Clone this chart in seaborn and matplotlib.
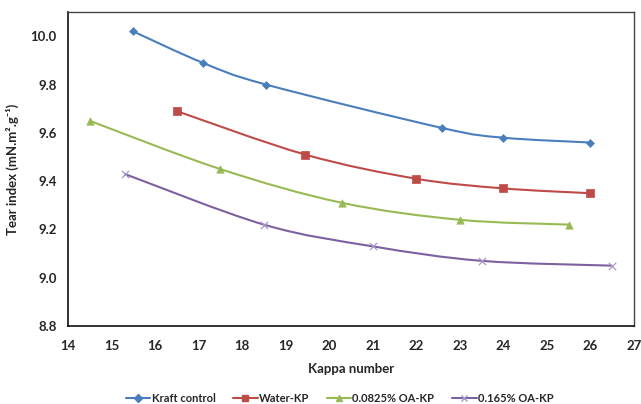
import numpy as np
import pandas as pd
import matplotlib
matplotlib.use("Agg")
import matplotlib.pyplot as plt
import seaborn as sns
from matplotlib.path import Path
from matplotlib.patches import PathPatch
from matplotlib.lines import Line2D

# ================================
# Data
# ================================
kraft_x = [15.5, 17.1, 18.55, 22.6, 24.0, 26.0]
kraft_y = [10.02, 9.89, 9.80, 9.62, 9.58, 9.56]

water_x = [16.5, 19.45, 22.0, 24.0, 26.0]
water_y = [9.69, 9.51, 9.41, 9.37, 9.35]

oa1_x = [14.5, 17.5, 20.3, 23.0, 25.5]
oa1_y = [9.65, 9.45, 9.31, 9.24, 9.22]

oa2_x = [15.3, 18.5, 21.0, 23.5, 26.5]
oa2_y = [9.43, 9.22, 9.13, 9.07, 9.05]

series_names = ["Kraft control", "Water-KP", "0.0825% OA-KP", "0.165% OA-KP"]
series_x = [kraft_x, water_x, oa1_x, oa2_x]
series_y = [kraft_y, water_y, oa1_y, oa2_y]
colors = ["#4A7EBB", "#BE4B48", "#98B954", "#7D60A0"]
markers = ["D", "s", "^", "x"]
msizes = [16, 28, 28, 28]

x_ticks = list(range(14, 28))
y_ticks = [8.8, 9.0, 9.2, 9.4, 9.6, 9.8, 10.0]

# ================================
# Style
# ================================
sns.set_theme(style="white")
plt.rcParams["font.family"] = ["Lato", "DejaVu Sans"]
plt.rcParams["font.weight"] = "bold"


def smooth_path(xs, ys):
    # Excel-like smoothed line: cubic Bezier through the points
    pts = np.column_stack([xs, ys]).astype(float)
    n = len(pts)
    verts = [pts[0]]
    codes = [Path.MOVETO]
    for i in range(n - 1):
        p0 = pts[i - 1] if i > 0 else pts[i]
        p1 = pts[i]
        p2 = pts[i + 1]
        p3 = pts[i + 2] if i + 2 < n else pts[i + 1]
        c1 = p1 + (p2 - p0) / 6.0
        c2 = p2 - (p3 - p1) / 6.0
        verts += [c1, c2, p2]
        codes += [Path.CURVE4] * 3
    return Path(verts, codes)


fig, ax = plt.subplots(figsize=(6.41, 4.04), dpi=100)
fig.subplots_adjust(left=0.106, right=0.989, top=0.970, bottom=0.193)

handles = []
for name, xs, ys, c, m, s in zip(series_names, series_x, series_y, colors, markers, msizes):
    ax.add_patch(PathPatch(smooth_path(xs, ys), facecolor="none", edgecolor=c, lw=1.5,
                           transform=ax.transData, zorder=2))
    df = pd.DataFrame({"x": xs, "y": ys})
    if m == "x":
        sns.scatterplot(data=df, x="x", y="y", marker=m, color="#A899C8", s=s,
                        linewidth=0.9, ax=ax, zorder=3)
    else:
        sns.scatterplot(data=df, x="x", y="y", marker=m, color=c, s=s,
                        edgecolor=c, linewidth=0.5, ax=ax, zorder=3)
    handles.append(Line2D([0], [0], color=c, lw=1.5, marker=m,
                          markersize=5 if m != "D" else 4,
                          markeredgecolor="#A899C8" if m == "x" else c,
                          markerfacecolor=c, label=name))

ax.set_xlim(14, 27)
ax.set_ylim(8.8, 10.1)
ax.set_xticks(x_ticks)
ax.set_yticks(y_ticks)
ax.set_yticklabels([f"{v:.1f}" for v in y_ticks])
ax.tick_params(axis="both", direction="out", length=4, width=1, color="#222222",
               labelsize=9.5, pad=4)
ax.tick_params(axis="x", pad=6)
for lab in ax.get_xticklabels() + ax.get_yticklabels():
    lab.set_fontweight("bold")

for side in ["left", "bottom"]:
    ax.spines[side].set_color("#111111")
    ax.spines[side].set_linewidth(1.2)
for side in ["top", "right"]:
    ax.spines[side].set_color("#444444")
    ax.spines[side].set_linewidth(1.0)

ax.set_xlabel("Kappa number", fontsize=9.5, fontweight="bold", labelpad=8)
ax.set_ylabel("Tear index (mN.m\u00b2.g\u207b\u00b9)", fontsize=9.5, fontweight="bold", labelpad=8)

fig.legend(handles=handles, loc="lower center", bbox_to_anchor=(0.53, -0.025), ncol=4,
           frameon=False, handlelength=2.2, handletextpad=0.1,
           columnspacing=1.6, prop={"weight": "bold", "size": 8})

fig.savefig("out.png", dpi=100)
plt.close(fig)
